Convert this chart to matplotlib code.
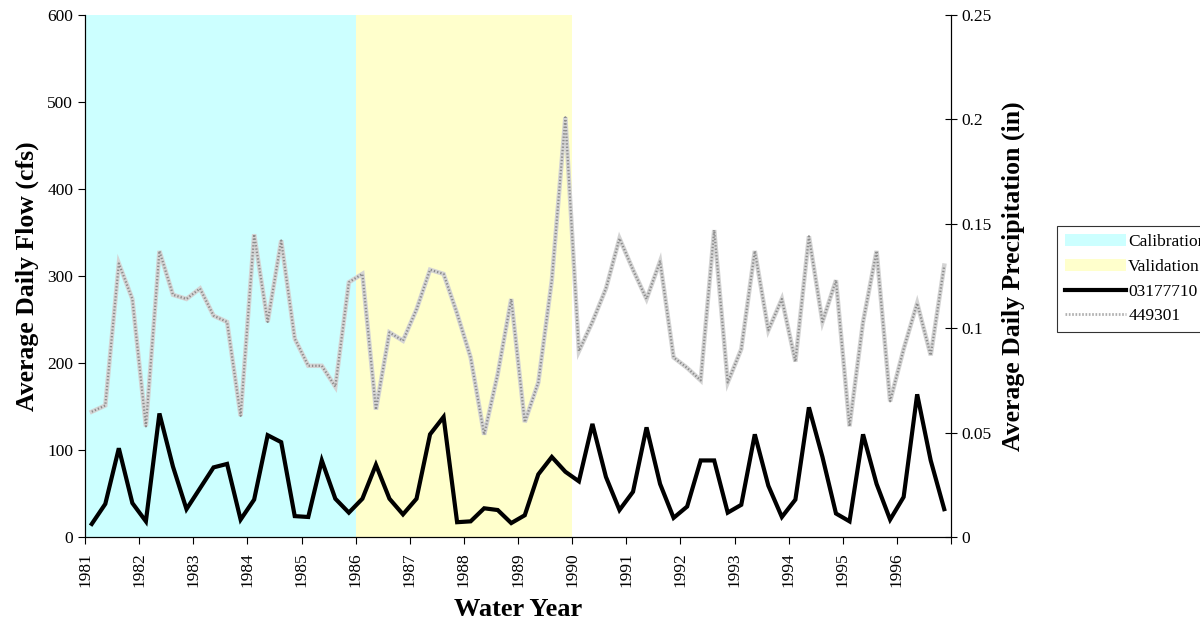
import matplotlib
matplotlib.use("Agg")
import matplotlib.pyplot as plt
import numpy as np
from matplotlib.patches import Patch
from matplotlib.lines import Line2D

plt.rcParams['font.family'] = ['Liberation Serif', 'DejaVu Serif']

start_year = 1981
year_labels = [str(y) for y in range(1981, 1997)]

flow_03177710 = [15, 38, 102, 39, 18, 142, 81, 32, 56, 80, 84, 20,
                 43, 117, 109, 24, 23, 88, 44, 28, 44, 83, 44, 26,
                 44, 118, 138, 17, 18, 33, 31, 16, 25, 72, 92, 75,
                 64, 130, 69, 31, 52, 126, 61, 22, 35, 88, 88, 28,
                 37, 118, 59, 23, 43, 149, 92, 27, 18, 118, 61, 20,
                 46, 164, 88, 32]

precip_449301 = [0.060, 0.063, 0.131, 0.114, 0.053, 0.137, 0.116, 0.114,
                 0.119, 0.106, 0.103, 0.058, 0.145, 0.103, 0.142, 0.095,
                 0.082, 0.082, 0.072, 0.122, 0.126, 0.061, 0.098, 0.094,
                 0.109, 0.128, 0.126, 0.107, 0.086, 0.049, 0.078, 0.114,
                 0.055, 0.074, 0.123, 0.201, 0.089, 0.103, 0.119, 0.143,
                 0.128, 0.114, 0.132, 0.086, 0.081, 0.075, 0.147, 0.074,
                 0.090, 0.137, 0.099, 0.114, 0.084, 0.144, 0.103, 0.123,
                 0.053, 0.103, 0.137, 0.065, 0.090, 0.112, 0.087, 0.130]

calibration = (1981, 1986)
validation = (1986, 1990)

n = len(flow_03177710)
x = start_year + (np.arange(n) + 0.5) / 4.0

fig = plt.figure(figsize=(12, 6.19), dpi=100)
ax = fig.add_axes([85/1200, 1-537/619, (951-85)/1200, (537-15)/619])
ax2 = ax.twinx()
ax.set_zorder(ax2.get_zorder() + 1)
ax.patch.set_visible(False)

ax2.axvspan(*calibration, color='#CCFFFF', zorder=0, lw=0)
ax2.axvspan(*validation, color='#FFFFCC', zorder=0, lw=0)

ax2.plot(x, precip_449301, color='#d4d4d4', lw=3.2, zorder=2, solid_joinstyle='miter')
ax2.plot(x, precip_449301, color='#8c8c8c', lw=1.6, ls=(0, (0.6, 0.9)), zorder=3)
ax.plot(x, flow_03177710, color='black', lw=3, zorder=4, solid_joinstyle='miter')

ax.set_xlim(1981, 1997)
ax.set_ylim(0, 600)
ax2.set_ylim(0, 0.25)
ax.set_yticks(range(0, 601, 100))
ax2.set_yticks([0, 0.05, 0.1, 0.15, 0.2, 0.25])
ax2.set_yticklabels(['0', '0.05', '0.1', '0.15', '0.2', '0.25'])
ax.set_xticks(np.arange(1981, 1998))
ax.set_xticklabels(year_labels + [''], rotation=90)

for a in (ax, ax2):
    a.spines['top'].set_visible(False)
ax.tick_params(axis='y', direction='out', length=5, labelsize=12.5)
ax.tick_params(axis='x', direction='out', length=5, labelsize=12.5, pad=6)
ax2.tick_params(axis='y', direction='inout', length=8, labelsize=12.5)

ax.set_ylabel('Average Daily Flow (cfs)', fontsize=18.5, fontweight='bold', labelpad=6)
ax2.set_ylabel('Average Daily Precipitation (in)', fontsize=18.5, fontweight='bold', labelpad=7)
ax.set_xlabel('Water Year', fontsize=19, fontweight='bold', labelpad=8)

handles = [Patch(facecolor='#CCFFFF', edgecolor='none', label='Calibration'),
           Patch(facecolor='#FFFFCC', edgecolor='none', label='Validation'),
           Line2D([], [], color='black', lw=3, label='03177710'),
           Line2D([], [], color='#b0b0b0', lw=2, ls=(0, (0.6, 0.6)), label='449301')]
leg = fig.legend(handles=handles, loc='upper left', bbox_to_anchor=(1057/1200, 1-226/619),
                 frameon=True, fancybox=False, edgecolor='black', fontsize=12.5,
                 handlelength=3.5, handleheight=0.7, borderpad=0.45, labelspacing=0.5,
                 handletextpad=0.15, borderaxespad=0)
leg.get_frame().set_linewidth(0.8)

fig.savefig('out.png', dpi=100)
